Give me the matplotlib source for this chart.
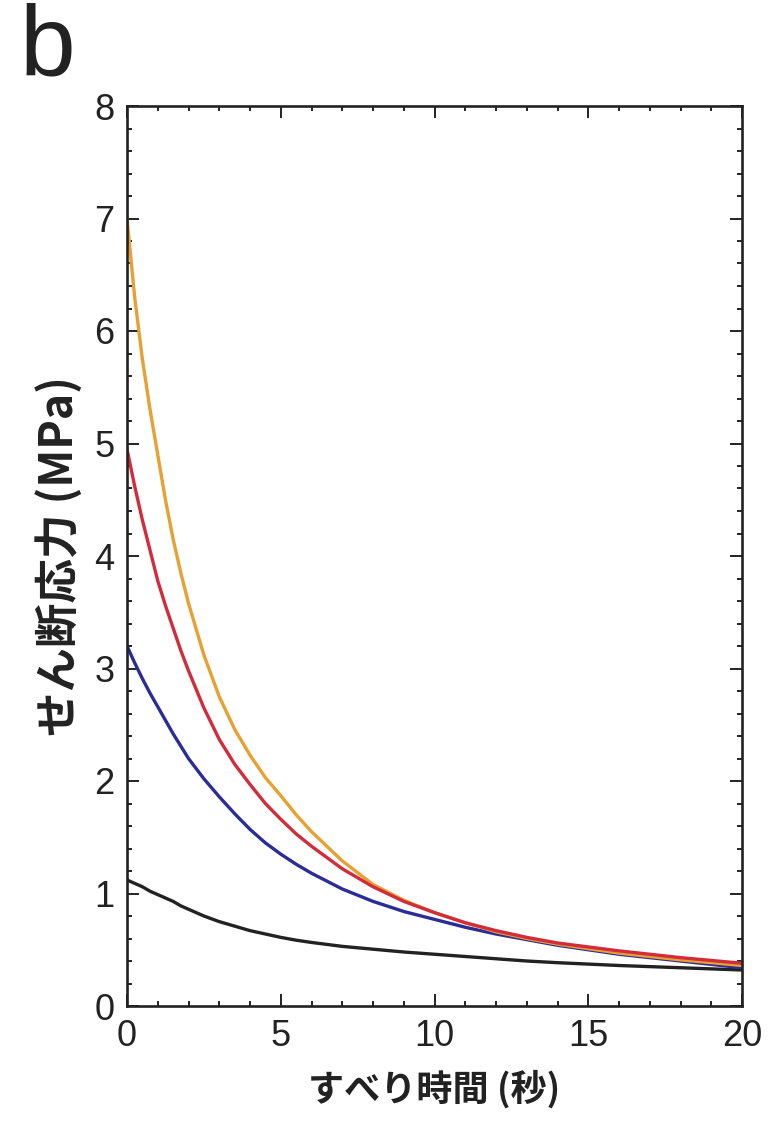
import matplotlib
matplotlib.use("Agg")
import matplotlib.pyplot as plt
from matplotlib.ticker import MultipleLocator

# すべり時間 (秒)
t = [0, 0.25, 0.5, 0.75, 1, 1.25, 1.5, 1.75, 2, 2.5, 3, 3.5, 4, 4.5, 5, 5.5, 6,
     7, 8, 9, 10, 11, 12, 13, 14, 16, 18, 20]

# せん断応力 (MPa)
orange = [7.0, 6.3, 5.75, 5.3, 4.9, 4.5, 4.15, 3.85, 3.58, 3.12, 2.75, 2.46, 2.23, 2.03, 1.87, 1.70, 1.55,
          1.29, 1.08, 0.94, 0.83, 0.74, 0.66, 0.60, 0.55, 0.47, 0.41, 0.36]
red = [4.95, 4.62, 4.32, 4.05, 3.78, 3.56, 3.36, 3.16, 2.98, 2.65, 2.37, 2.15, 1.97, 1.80, 1.66, 1.53, 1.42,
       1.22, 1.06, 0.93, 0.83, 0.74, 0.67, 0.61, 0.56, 0.49, 0.43, 0.38]
blue = [3.2, 3.05, 2.91, 2.78, 2.66, 2.54, 2.42, 2.31, 2.2, 2.02, 1.86, 1.71, 1.57, 1.45, 1.35, 1.26, 1.18,
        1.04, 0.93, 0.84, 0.77, 0.70, 0.64, 0.59, 0.54, 0.46, 0.40, 0.34]
black = [1.12, 1.09, 1.06, 1.02, 0.99, 0.96, 0.93, 0.89, 0.86, 0.80, 0.75, 0.71, 0.67, 0.64, 0.61, 0.585, 0.565,
         0.53, 0.505, 0.48, 0.46, 0.44, 0.42, 0.40, 0.385, 0.36, 0.34, 0.32]

num_font = ['Liberation Sans Narrow', 'Liberation Sans', 'DejaVu Sans']
jp_font = ['Noto Sans CJK JP', 'DejaVu Sans']

fig = plt.figure(figsize=(7.71, 11.23), dpi=100)
ax = fig.add_axes([127/771, 117/1123, 615/771, 900/1123])

ax.plot(t, black, color='#222222', lw=2.4)
ax.plot(t, blue, color='#2a2c98', lw=2.4)
ax.plot(t, orange, color='#e8a032', lw=2.4)
ax.plot(t, red, color='#d22c3a', lw=2.4)

ax.set_xlim(0, 20)
ax.set_ylim(0, 8)
ax.xaxis.set_major_locator(MultipleLocator(5))
ax.xaxis.set_minor_locator(MultipleLocator(1))
ax.yaxis.set_major_locator(MultipleLocator(1))
ax.yaxis.set_minor_locator(MultipleLocator(0.2))
ax.tick_params(which='both', direction='in', top=True, right=True, width=1.4, color='#222222')
ax.tick_params(which='major', length=8.5, pad=9)
ax.tick_params(which='minor', length=3.6)
for lab in ax.get_xticklabels() + ax.get_yticklabels():
    lab.set_family(num_font)
    lab.set_fontsize(26)
    lab.set_color('#222222')
for s in ax.spines.values():
    s.set_linewidth(1.9)
    s.set_color('#222222')

ax.set_xlabel('すべり時間 (秒)', family=jp_font, fontsize=26, fontweight='bold', color='#222222', labelpad=12)
ax.set_ylabel('せん断応力 (MPa)', family=jp_font, fontsize=32, fontweight='bold', color='#222222', labelpad=8)

fig.text(20/771, 1 - 2/1123, 'b', family=num_font, fontsize=72, va='top', ha='left', color='#222222')

fig.savefig('out.png', dpi=100)
